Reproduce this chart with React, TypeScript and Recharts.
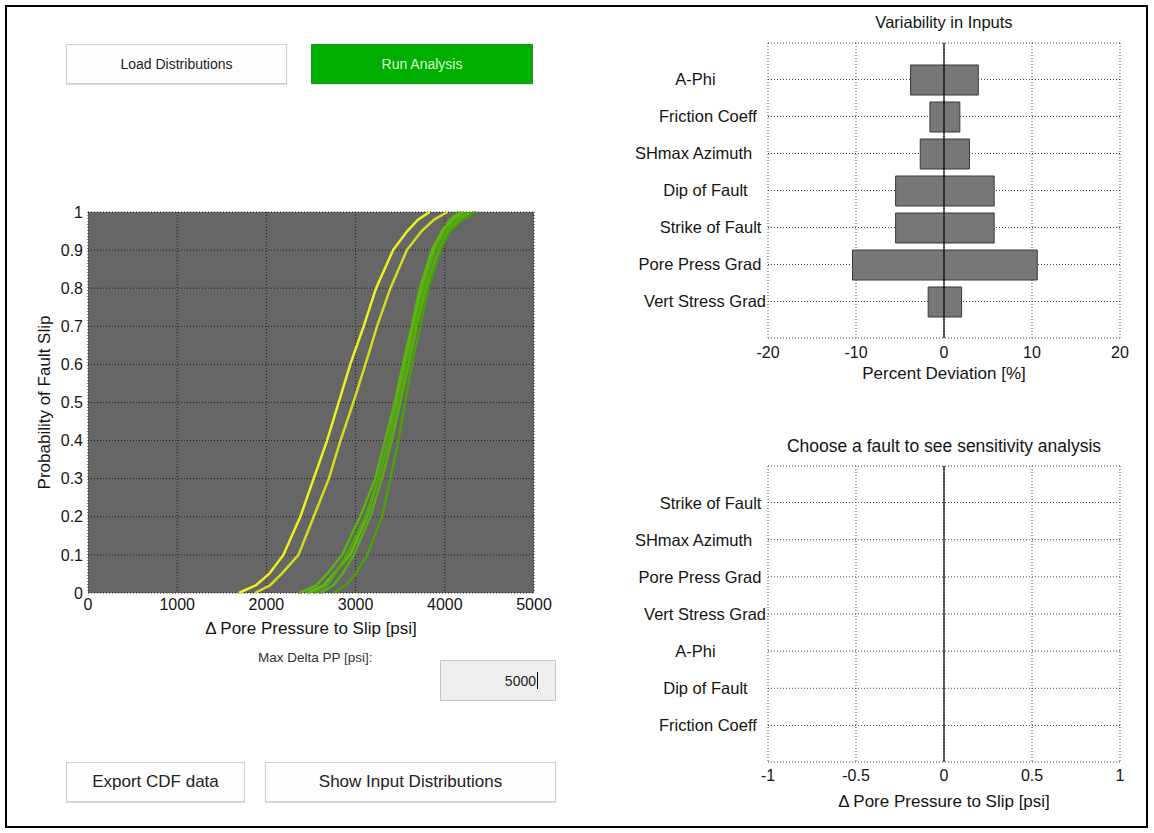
import React from "react";
import {
  LineChart,
  Line,
  XAxis,
  YAxis,
  CartesianGrid,
  BarChart,
  Bar,
  ReferenceLine,
} from "recharts";

const FONT = "'Liberation Sans', Arial, Helvetica, sans-serif";
const TEXT = "#141414";

// ---------- CDF plot data ----------
const cdfProbabilities = [0, 0.02, 0.05, 0.1, 0.2, 0.3, 0.4, 0.5, 0.6, 0.7, 0.8, 0.9, 0.95, 0.98, 1];
const cdfYellowA = [1690, 1880, 2030, 2190, 2380, 2530, 2680, 2810, 2940, 3090, 3230, 3420, 3580, 3700, 3830];
const cdfYellowB = [1870, 2040, 2170, 2360, 2530, 2700, 2830, 2975, 3110, 3240, 3390, 3575, 3740, 3880, 4030];
const cdfGreenA = [2370, 2560, 2680, 2850, 3050, 3220, 3330, 3440, 3530, 3630, 3720, 3855, 3965, 4060, 4170];
const cdfGreenB = [2460, 2640, 2750, 2940, 3125, 3255, 3370, 3465, 3555, 3650, 3745, 3875, 3985, 4090, 4210];
const cdfGreenC = [2530, 2680, 2770, 2900, 3110, 3255, 3370, 3470, 3565, 3660, 3760, 3890, 4005, 4120, 4250];
const cdfGreenD = [2600, 2750, 2850, 2980, 3165, 3295, 3405, 3500, 3595, 3685, 3790, 3930, 4040, 4160, 4285];
const cdfGreenE = [2750, 2890, 3000, 3130, 3295, 3390, 3480, 3555, 3630, 3725, 3815, 3950, 4060, 4200, 4340];
const cdfSeries = [cdfYellowA, cdfYellowB, cdfGreenA, cdfGreenB, cdfGreenC, cdfGreenD, cdfGreenE];
const cdfColors = ["#eef21c", "#d4dc1e", "#5cb30f", "#63b915", "#52a80e", "#5aae12", "#4a9f0c"];
const cdfXTicks = [0, 1000, 2000, 3000, 4000, 5000];
const cdfYTicks = [0, 0.1, 0.2, 0.3, 0.4, 0.5, 0.6, 0.7, 0.8, 0.9, 1];

// ---------- Variability in Inputs ----------
const variabilityNames = [
  "A-Phi",
  "Friction Coeff",
  "SHmax Azimuth",
  "Dip of Fault",
  "Strike of Fault",
  "Pore Press Grad",
  "Vert Stress Grad",
];
const variabilityLow = [-3.8, -1.6, -2.7, -5.5, -5.5, -10.4, -1.8];
const variabilityHigh = [3.9, 1.8, 2.9, 5.7, 5.7, 10.6, 2.0];
const variabilityTicks = [-20, -10, 0, 10, 20];

// ---------- Sensitivity analysis (no fault chosen) ----------
const sensitivityNames = [
  "Strike of Fault",
  "SHmax Azimuth",
  "Pore Press Grad",
  "Vert Stress Grad",
  "A-Phi",
  "Dip of Fault",
  "Friction Coeff",
];
const sensitivityValues: (number | null)[] = [null, null, null, null, null, null, null];
const sensitivityTicks = [-1, -0.5, 0, 0.5, 1];

const variabilityData = variabilityNames.map((name, i) => ({
  name,
  range: [variabilityLow[i], variabilityHigh[i]],
}));
const sensitivityData = sensitivityNames.map((name, i) => ({
  name,
  delta: sensitivityValues[i],
}));

const CategoryTick = (props: any) => {
  const { x, y, payload } = props;
  return (
    <text
      x={x}
      y={y}
      dy="0.36em"
      textAnchor="end"
      fontSize={16.5}
      fontFamily={FONT}
      fill={TEXT}
      xmlSpace="preserve"
      style={{ whiteSpace: "pre" }}
    >
      {String(payload.value).padEnd(16, " ")}
    </text>
  );
};

const tickStyle = { fontSize: 16, fill: TEXT, fontFamily: FONT };
const labelStyle = { fontSize: 17, fill: TEXT, fontFamily: FONT };

function CdfChart() {
  return (
    <LineChart width={560} height={460} margin={{ top: 22, right: 26, bottom: 12, left: 48 }}>
      <CartesianGrid fill="#666666" stroke="#1e1e1e" strokeDasharray="1 2" />
      <XAxis
        type="number"
        dataKey="x"
        domain={[0, 5000]}
        ticks={cdfXTicks}
        allowDataOverflow
        height={45}
        tickSize={0}
        tickMargin={6}
        axisLine={false}
        tick={tickStyle}
        label={{
          value: "\u0394 Pore Pressure to Slip [psi]",
          position: "insideBottom",
          offset: 4,
          style: labelStyle,
        }}
      />
      <YAxis
        type="number"
        domain={[0, 1]}
        ticks={cdfYTicks}
        width={40}
        tickSize={0}
        tickMargin={5}
        axisLine={false}
        tick={tickStyle}
        label={{
          value: "Probability of Fault Slip",
          angle: -90,
          position: "insideLeft",
          offset: -4,
          style: { ...labelStyle, textAnchor: "middle" },
        }}
      />
      {cdfSeries.map((series, k) => (
        <Line
          key={k}
          data={cdfProbabilities.map((p, i) => ({ x: series[i], p }))}
          dataKey="p"
          type="linear"
          stroke={cdfColors[k]}
          strokeWidth={2.5}
          dot={false}
          isAnimationActive={false}
        />
      ))}
    </LineChart>
  );
}

function VariabilityChart() {
  return (
    <BarChart
      width={554}
      height={390}
      layout="vertical"
      data={variabilityData}
      margin={{ top: 43, right: 34, bottom: 7, left: 0 }}
    >
      <CartesianGrid stroke="#444" strokeDasharray="1 2" />
      <XAxis
        type="number"
        domain={[-20, 20]}
        ticks={variabilityTicks}
        allowDataOverflow
        height={45}
        tickSize={0}
        tickMargin={9}
        axisLine={false}
        tick={tickStyle}
        label={{ value: "Percent Deviation [%]", position: "insideBottom", offset: 4, style: labelStyle }}
      />
      <XAxis
        xAxisId="top"
        orientation="top"
        type="number"
        domain={[-20, 20]}
        allowDataOverflow
        height={0}
        tick={false}
        tickLine={false}
        axisLine={{ stroke: "#333", strokeDasharray: "1 1.5", strokeWidth: 1.5 }}
      />
      <YAxis
        type="category"
        dataKey="name"
        width={168}
        padding={{ top: 18, bottom: 18 }}
        tickSize={0}
        tickMargin={2}
        axisLine={false}
        tick={<CategoryTick />}
        interval={0}
      />
      <Bar
        dataKey="range"
        fill="#777777"
        stroke="#3a3a3a"
        strokeWidth={1}
        barSize={30}
        isAnimationActive={false}
      />
      <ReferenceLine x={0} stroke="#000" strokeWidth={1.2} />
    </BarChart>
  );
}

function SensitivityChart() {
  return (
    <BarChart
      width={554}
      height={403}
      layout="vertical"
      data={sensitivityData}
      margin={{ top: 36, right: 34, bottom: 21, left: 0 }}
    >
      <CartesianGrid stroke="#444" strokeDasharray="1 2" />
      <XAxis
        type="number"
        domain={[-1, 1]}
        ticks={sensitivityTicks}
        allowDataOverflow
        height={50}
        tickSize={0}
        tickMargin={8}
        axisLine={false}
        tick={tickStyle}
        label={{
          value: "\u0394 Pore Pressure to Slip [psi]",
          position: "insideBottom",
          offset: 5,
          style: labelStyle,
        }}
      />
      <XAxis
        xAxisId="top"
        orientation="top"
        type="number"
        domain={[-1, 1]}
        allowDataOverflow
        height={0}
        tick={false}
        tickLine={false}
        axisLine={{ stroke: "#333", strokeDasharray: "1 1.5", strokeWidth: 1.5 }}
      />
      <YAxis
        type="category"
        dataKey="name"
        width={168}
        padding={{ top: 18, bottom: 18 }}
        tickSize={0}
        tickMargin={2}
        axisLine={false}
        tick={<CategoryTick />}
        interval={0}
      />
      <Bar dataKey="delta" fill="#777777" stroke="#3a3a3a" barSize={30} isAnimationActive={false} />
      <ReferenceLine x={0} stroke="#000" strokeWidth={1.2} ifOverflow="extendDomain" />
    </BarChart>
  );
}

const whiteButton: React.CSSProperties = {
  position: "absolute",
  background: "#fdfdfd",
  border: "1px solid #cfcfcf",
  boxShadow: "0 1px 1px rgba(0,0,0,0.12)",
  display: "flex",
  alignItems: "center",
  justifyContent: "center",
  color: "#222",
  boxSizing: "border-box",
};

export default function App() {
  return (
    <div
      style={{
        position: "absolute",
        left: 0,
        top: 0,
        width: 1154,
        height: 833,
        background: "#fff",
        fontFamily: FONT,
        overflow: "hidden",
      }}
    >
      <div
        style={{
          position: "absolute",
          left: 5,
          top: 5,
          width: 1139,
          height: 819,
          border: "2px solid #000",
        }}
      />

      <div style={{ ...whiteButton, left: 66, top: 44, width: 221, height: 40, fontSize: 14 }}>
        Load Distributions
      </div>
      <div
        style={{
          ...whiteButton,
          left: 311,
          top: 44,
          width: 222,
          height: 40,
          fontSize: 14,
          background: "#00b000",
          border: "1px solid #2c8a2c",
          color: "#d8f5d0",
        }}
      >
        Run Analysis
      </div>

      <div style={{ position: "absolute", left: 0, top: 190 }}>
        <CdfChart />
      </div>

      <div style={{ position: "absolute", left: 258, top: 650, fontSize: 13.5, color: "#333" }}>
        Max Delta PP [psi]:
      </div>
      <div
        style={{
          position: "absolute",
          left: 440,
          top: 660,
          width: 116,
          height: 41,
          background: "#eeeeee",
          border: "1px solid #c6c6c6",
          boxSizing: "border-box",
          display: "flex",
          alignItems: "center",
          justifyContent: "flex-end",
          paddingRight: 17,
          fontSize: 14,
          color: "#222",
        }}
      >
        5000
        <span style={{ display: "inline-block", width: 1, height: 17, background: "#000", marginLeft: 1 }} />
      </div>

      <div style={{ ...whiteButton, left: 66, top: 762, width: 179, height: 40, fontSize: 17 }}>
        Export CDF data
      </div>
      <div style={{ ...whiteButton, left: 265, top: 762, width: 291, height: 40, fontSize: 17 }}>
        Show Input Distributions
      </div>

      <div
        style={{
          position: "absolute",
          left: 768,
          width: 352,
          top: 12,
          textAlign: "center",
          fontSize: 16.5,
          lineHeight: "20px",
          color: TEXT,
        }}
      >
        Variability in Inputs
      </div>
      <div style={{ position: "absolute", left: 600, top: 0 }}>
        <VariabilityChart />
      </div>

      <div
        style={{
          position: "absolute",
          left: 768,
          width: 352,
          top: 436,
          textAlign: "center",
          fontSize: 17.5,
          lineHeight: "20px",
          color: TEXT,
          whiteSpace: "nowrap",
        }}
      >
        Choose a fault to see sensitivity analysis
      </div>
      <div style={{ position: "absolute", left: 600, top: 430 }}>
        <SensitivityChart />
      </div>
    </div>
  );
}
